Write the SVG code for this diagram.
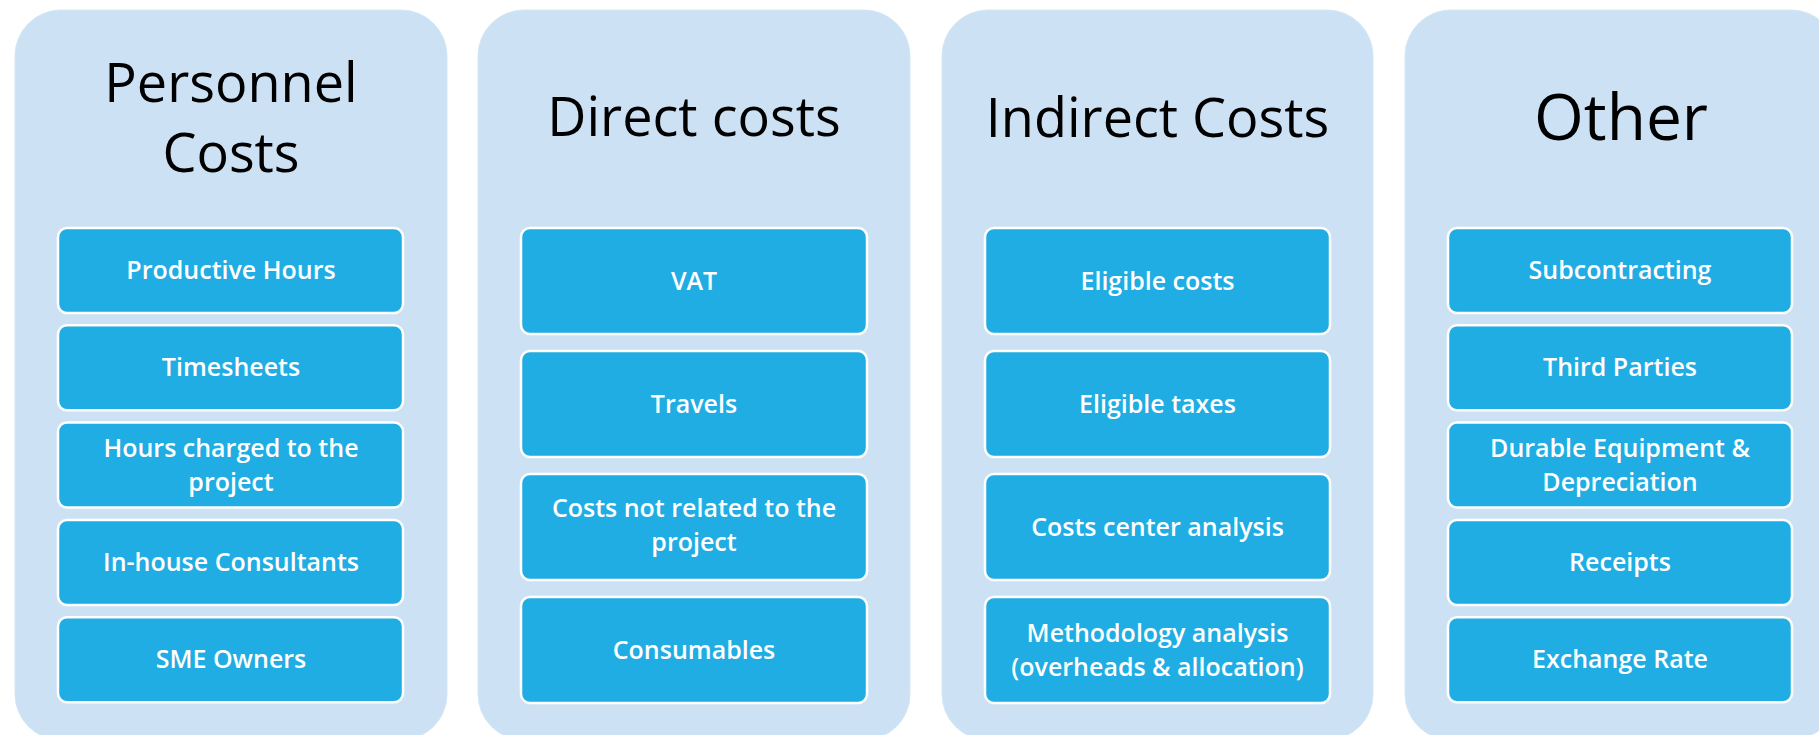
<svg xmlns="http://www.w3.org/2000/svg" width="1819" height="735" viewBox="0 0 1819 735">
  <style>
    .panel { fill: #CCE2F4; stroke: #D4E7F6; stroke-width: 1; }
    .box { fill: #1FADE3; stroke: #FFFFFF; stroke-width: 2.5; }
    .title { font-family: "Open Sans", "Liberation Sans", sans-serif; font-size: 54px; fill: #000000; text-anchor: middle; }
    .label { font-family: "Open Sans", "Liberation Sans", sans-serif; font-size: 25px; font-weight: 600; fill: #FFFFFF; text-anchor: middle; }
  </style>
  <rect width="1819" height="735" fill="#FFFFFF"/>

  <!-- Column 1: personnel costs -->
  <g id="personnel-costs">
    <rect class="panel" x="15" y="10" width="432" height="730" rx="46"/>
    <text class="title" x="231" y="102">Personnel</text>
    <text class="title" x="231" y="172">Costs</text>
  </g>
  <g id="productive-hours">
    <rect class="box" x="58" y="228" width="345" height="85" rx="9"/>
    <text class="label" x="231" y="279">Productive Hours</text>
  </g>
  <g id="timesheets">
    <rect class="box" x="58" y="325.3" width="345" height="85" rx="9"/>
    <text class="label" x="231" y="376.3">Timesheets</text>
  </g>
  <g id="hours-charged">
    <rect class="box" x="58" y="422.6" width="345" height="85" rx="9"/>
    <text class="label" x="231" y="457">Hours charged to the</text>
    <text class="label" x="231" y="491">project</text>
  </g>
  <g id="in-house-consultants">
    <rect class="box" x="58" y="519.9" width="345" height="85" rx="9"/>
    <text class="label" x="231" y="570.9">In-house Consultants</text>
  </g>
  <g id="sme-owners">
    <rect class="box" x="58" y="617.2" width="345" height="85" rx="9"/>
    <text class="label" x="231" y="668.2">SME Owners</text>
  </g>

  <!-- Column 2: direct costs -->
  <g id="direct-costs">
    <rect class="panel" x="478" y="10" width="432" height="730" rx="46"/>
    <text class="title" x="694" y="136">Direct costs</text>
  </g>
  <g id="vat">
    <rect class="box" x="521" y="228" width="346" height="106" rx="9"/>
    <text class="label" x="694" y="289.5">VAT</text>
  </g>
  <g id="travels">
    <rect class="box" x="521" y="351" width="346" height="106" rx="9"/>
    <text class="label" x="694" y="412.5">Travels</text>
  </g>
  <g id="unrelated-costs">
    <rect class="box" x="521" y="474" width="346" height="106" rx="9"/>
    <text class="label" x="694" y="517">Costs not related to the</text>
    <text class="label" x="694" y="551">project</text>
  </g>
  <g id="consumables">
    <rect class="box" x="521" y="597" width="346" height="106" rx="9"/>
    <text class="label" x="694" y="658.5">Consumables</text>
  </g>

  <!-- Column 3: indirect costs -->
  <g id="indirect-costs">
    <rect class="panel" x="942" y="10" width="431" height="730" rx="46"/>
    <text class="title" x="1157.5" y="137">Indirect Costs</text>
  </g>
  <g id="eligible-costs">
    <rect class="box" x="985" y="228" width="345" height="106" rx="9"/>
    <text class="label" x="1157.5" y="289.5">Eligible costs</text>
  </g>
  <g id="eligible-taxes">
    <rect class="box" x="985" y="351" width="345" height="106" rx="9"/>
    <text class="label" x="1157.5" y="412.5">Eligible taxes</text>
  </g>
  <g id="cost-center-analysis">
    <rect class="box" x="985" y="474" width="345" height="106" rx="9"/>
    <text class="label" x="1157.5" y="535.5">Costs center analysis</text>
  </g>
  <g id="methodology-analysis">
    <rect class="box" x="985" y="597" width="345" height="106" rx="9"/>
    <text class="label" x="1157.5" y="642">Methodology analysis</text>
    <text class="label" x="1157.5" y="676">(overheads &amp; allocation)</text>
  </g>

  <!-- Column 4: other -->
  <g id="other">
    <rect class="panel" x="1405" y="10" width="432" height="730" rx="46"/>
    <text class="title" x="1621" y="140" style="font-size:64px">Other</text>
  </g>
  <g id="subcontracting">
    <rect class="box" x="1448" y="228" width="344" height="85" rx="9"/>
    <text class="label" x="1620" y="279">Subcontracting</text>
  </g>
  <g id="third-parties">
    <rect class="box" x="1448" y="325.3" width="344" height="85" rx="9"/>
    <text class="label" x="1620" y="376.3">Third Parties</text>
  </g>
  <g id="durable-equipment">
    <rect class="box" x="1448" y="422.6" width="344" height="85" rx="9"/>
    <text class="label" x="1620" y="457">Durable Equipment &amp;</text>
    <text class="label" x="1620" y="491">Depreciation</text>
  </g>
  <g id="receipts">
    <rect class="box" x="1448" y="519.9" width="344" height="85" rx="9"/>
    <text class="label" x="1620" y="570.9">Receipts</text>
  </g>
  <g id="exchange-rate">
    <rect class="box" x="1448" y="617.2" width="344" height="85" rx="9"/>
    <text class="label" x="1620" y="668.2">Exchange Rate</text>
  </g>

  <g id="connectors"/>
</svg>
